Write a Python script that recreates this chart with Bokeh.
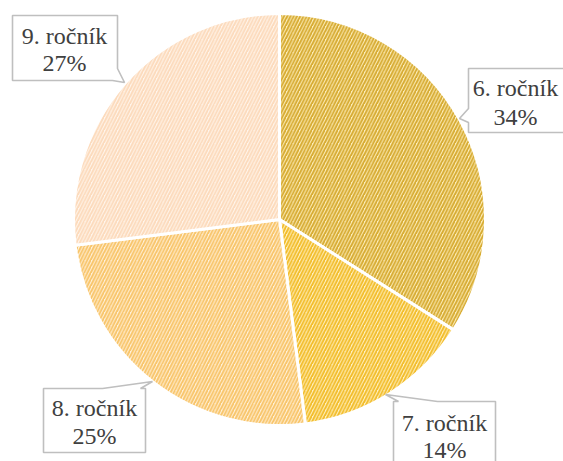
import numpy as np
from bokeh.plotting import figure
from bokeh.models import Range1d, ColumnDataSource
from bokeh.core.properties import value
from bokeh.embed import file_html
from bokeh.resources import INLINE

# ---- data ----
categories = ["6. ročník", "7. ročník", "8. ročník", "9. ročník"]
percent = [34, 14, 25, 27]
fill_colors = ["#fdeebb", "#fff1c4", "#fff1da", "#fff5ec"]
hatch_colors = ["#d6aa30", "#f2bc28", "#f8c468", "#fcdabb"]

W, H = 563, 461
p = figure(width=W, height=H, output_backend="svg", toolbar_location=None,
           x_range=Range1d(0, W), y_range=Range1d(-H, 0),
           min_border=0)
p.axis.visible = False
p.grid.visible = False
p.outline_line_color = None
p.background_fill_color = "white"

# pie geometry (picture pixel coords -> data: x, -y)
cx, cy, R = 279, -219, 206
frac = np.array(percent, dtype=float) / sum(percent)
cum = np.concatenate([[0], np.cumsum(frac)])
start = np.pi / 2 - cum[:-1] * 2 * np.pi
end = np.pi / 2 - cum[1:] * 2 * np.pi

src = ColumnDataSource(dict(x=[cx] * 4, y=[cy] * 4, start=start, end=end,
                            fill=fill_colors, hatch=hatch_colors, cat=categories))
p.wedge(x="x", y="y", radius=R, start_angle="start", end_angle="end",
        direction="clock", source=src, fill_color="fill",
        hatch_pattern="/", hatch_color="hatch", hatch_scale=6.5, hatch_weight=1.9,
        line_color="white", line_width=3)

# callouts (pixel coords)
callouts = [
    [(468, 68), (580, 68), (580, 132), (468, 132), (468, 122), (459, 118), (468, 108)],
    [(393, 401), (398, 401), (385, 394), (437, 401), (495, 401), (495, 475), (393, 475)],
    [(43, 388), (102, 388), (152, 381), (140, 388), (145, 388), (145, 452), (43, 452)],
    [(12, 15), (117, 15), (117, 68), (124, 82), (112, 80), (12, 80)],
]
xs = [[pt[0] for pt in c] for c in callouts]
ys = [[-pt[1] for pt in c] for c in callouts]
p.patches(xs, ys, fill_color="white", line_color="#bfbfbf", line_width=1.6)

label_pos = [(515, 87, 116), (444, 422, 449), (94, 407, 435), (64, 35, 62)]
tx, ty, tt = [], [], []
for (x0, y1, y2), cat, pc in zip(label_pos, categories, percent):
    tx += [x0, x0]
    ty += [-y1, -y2]
    tt += [cat, f"{pc}%"]
p.text(x=tx, y=ty, text=tt, text_align="center", text_baseline="alphabetic",
       text_font=value("Liberation Serif"), text_font_size="24px",
       text_color="#404040")

open("out.html", "w").write(file_html(p, INLINE))
